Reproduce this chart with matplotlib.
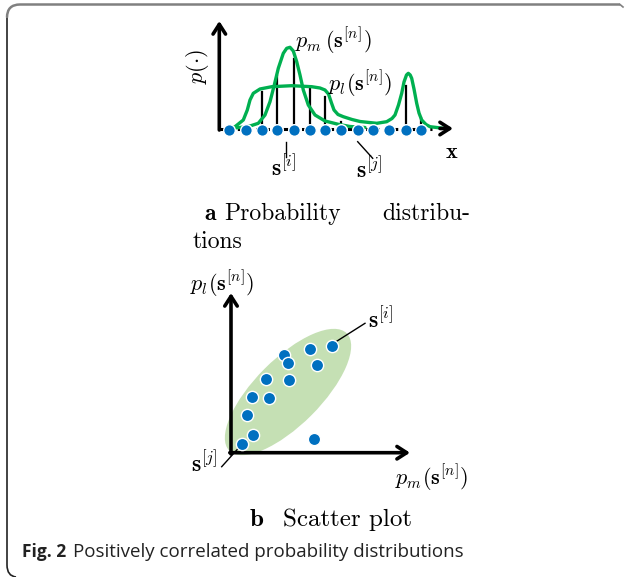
import matplotlib
matplotlib.use('Agg')
import matplotlib.pyplot as plt
from matplotlib.patches import Ellipse
from matplotlib.path import Path
from matplotlib.patches import PathPatch

plt.rcParams['mathtext.fontset'] = 'cm'

BLUE = '#0070c0'
GREEN = '#00b050'
LIGHT = '#c5e0b4'

# panel a: sample points along x axis (pixel positions)
dot_x = [229.3, 245.7, 261.7, 277.3, 294.0, 309.7, 325.3, 341.3, 357.7, 373.3, 389.3, 406.0, 420.7]
# stems: x position and top of each stem
stem_x = [261.7, 277.3, 294.0, 309.7, 325.3, 341.3, 406.0, 420.7]
stem_top = [92.3, 76.0, 59.0, 88.3, 96.7, 121.7, 86.0, 118.0]

# p_m curve (narrow peak)
pm_x = [229.3, 240, 250, 258.3, 265, 270, 274.3, 278.3, 283.3, 286.7, 290, 293.3,
        296.7, 300, 303.3, 308.3, 315, 325, 338.3, 350, 365]
pm_y = [128.3, 127.5, 126, 123.3, 115, 101.7, 85, 68.3, 53.3, 48.3, 47.3, 51,
        61.7, 75, 90, 105, 115, 121, 124.3, 126.5, 127.5]

# p_l curve (broad plateau + second peak)
pl_x = [229.3, 235, 243.3, 247.3, 250, 253.3, 260, 271.7, 291.7, 311.7, 320, 325,
        328.5, 331.5, 334, 338, 343.3, 352, 360, 376.7, 386.7, 392, 395, 398.5,
        401.7, 404, 406.5, 408.3, 410.2, 411.7, 414, 416.7, 419, 421.7, 426, 430, 445]
pl_y = [128.5, 126.7, 120, 110, 100, 93.3, 89, 86.7, 85.7, 86.7, 88, 90,
        94, 103, 110, 114.5, 116.7, 119.5, 121.5, 123.3, 121.7, 118.5, 115, 105,
        93.3, 82, 75, 73.3, 75, 78.3, 89, 103.3, 113, 120, 124.5, 126.7, 128.5]

# panel b: scatter of (p_m, p_l) pairs, pixel positions
sc_x = [331.7, 310.0, 284.0, 287.7, 316.7, 265.7, 289.0, 251.7, 269.0, 246.7, 252.7, 241.7, 314.0]
sc_y = [346.0, 349.3, 355.0, 363.3, 365.0, 379.3, 380.0, 396.7, 397.7, 415.3, 434.7, 443.7, 439.3]

fig = plt.figure(figsize=(6.26, 5.77), dpi=100)
ax = fig.add_axes([0, 0, 1, 1])
ax.set_xlim(0, 626)
ax.set_ylim(577, 0)
ax.axis('off')

# frame of the figure box
top = Path([(620, 4.5), (20, 4.5), (7, 4.5), (7, 17.5)],
           [Path.MOVETO, Path.LINETO, Path.CURVE3, Path.CURVE3])
ax.add_patch(PathPatch(top, fill=False, edgecolor='#808080', lw=1.8))
ax.plot([620, 623], [4.5, 7], color='#808080', lw=1.2)
left = Path([(7, 17.5), (7, 565), (7, 576), (16, 577)],
            [Path.MOVETO, Path.LINETO, Path.CURVE3, Path.CURVE3])
ax.add_patch(PathPatch(left, fill=False, edgecolor='#222222', lw=1.2))

arrow = dict(arrowstyle='->,head_length=0.7,head_width=0.45', lw=2.6, color='k',
             shrinkA=0, shrinkB=0)

# ---- panel a ----
ax.plot([219.3, 432], [128.5, 128.5], color='k', lw=2.2, linestyle=(0, (1.5, 1.5)))
ax.annotate('', xy=(219.3, 21), xytext=(219.3, 130), arrowprops=arrow)
for sx, st in zip(stem_x, stem_top):
    ax.plot([sx, sx], [st, 128.5], color='k', lw=1.6)
ax.plot(pm_x, pm_y, color=GREEN, lw=2.4, solid_capstyle='round')
ax.plot(pl_x, pl_y, color=GREEN, lw=2.4, solid_capstyle='round')
ax.annotate('', xy=(453, 128.5), xytext=(440, 128.5), arrowprops=arrow)
ax.scatter(dot_x, [129.5] * len(dot_x), s=70, color=BLUE, edgecolor='white', lw=1.0, zorder=5)

ax.text(197.5, 66, r'$p(\cdot)$', rotation=90, fontsize=16, ha='center', va='center')
ax.text(295, 41, r'$p_m\,(\mathbf{s}^{[n]})$', fontsize=16, ha='left', va='center')
ax.text(328, 84, r'$p_l(\mathbf{s}^{[n]})$', fontsize=16, ha='left', va='center')
ax.text(452, 152, r'$\mathbf{x}$', fontsize=16, ha='center', va='center')
ax.plot([286, 286], [141.7, 156.7], color='k', lw=1)
ax.text(284, 168, r'$\mathbf{s}^{[i]}$', fontsize=17, ha='center', va='center')
ax.plot([357.7, 372.7], [141.7, 158.3], color='k', lw=1)
ax.text(369, 170, r'$\mathbf{s}^{[j]}$', fontsize=17, ha='center', va='center')

# caption a
ax.text(204, 220, 'a', family='cmb10', fontsize=17, ha='left', va='baseline')
ax.text(224, 220, 'Probability', family='cmr10', fontsize=17, ha='left', va='baseline')
ax.text(470, 220, 'distribu-', family='cmr10', fontsize=17, ha='right', va='baseline')
ax.text(193, 248, 'tions', family='cmr10', fontsize=17, ha='left', va='baseline')

# ---- panel b ----
ax.add_patch(Ellipse((288, 392), 166, 66, angle=-45, facecolor=LIGHT, edgecolor='none'))
ax.annotate('', xy=(231, 293), xytext=(231, 454), arrowprops=arrow)
ax.annotate('', xy=(410, 452.7), xytext=(229.8, 452.7), arrowprops=arrow)
ax.scatter(sc_x, sc_y, s=78, color=BLUE, edgecolor='white', lw=1.0, zorder=5)
ax.plot([336, 365], [341.7, 323.3], color='k', lw=1)
ax.plot([238.3, 221.7], [448.3, 466.7], color='k', lw=1)
ax.text(222, 284, r'$p_l(\mathbf{s}^{[n]})$', fontsize=16, ha='center', va='center')
ax.text(431.5, 478, r'$p_m(\mathbf{s}^{[n]})$', fontsize=16, ha='center', va='center')
ax.text(381, 320, r'$\mathbf{s}^{[i]}$', fontsize=17, ha='center', va='center')
ax.text(204, 464, r'$\mathbf{s}^{[j]}$', fontsize=17, ha='center', va='center')

# caption b
ax.text(250, 526, 'b', family='cmb10', fontsize=18, ha='left', va='baseline')
ax.text(283, 526, 'Scatter plot', family='cmr10', fontsize=18, ha='left', va='baseline')

# figure caption
ax.text(22, 557, 'Fig. 2', family='Open Sans', fontweight='bold', fontsize=12.5,
        ha='left', va='baseline', color='#222222')
ax.text(73, 557, 'Positively correlated probability distributions', family='Open Sans',
        fontsize=13.5, ha='left', va='baseline', color='#222222')

fig.savefig('out.png', dpi=100)
